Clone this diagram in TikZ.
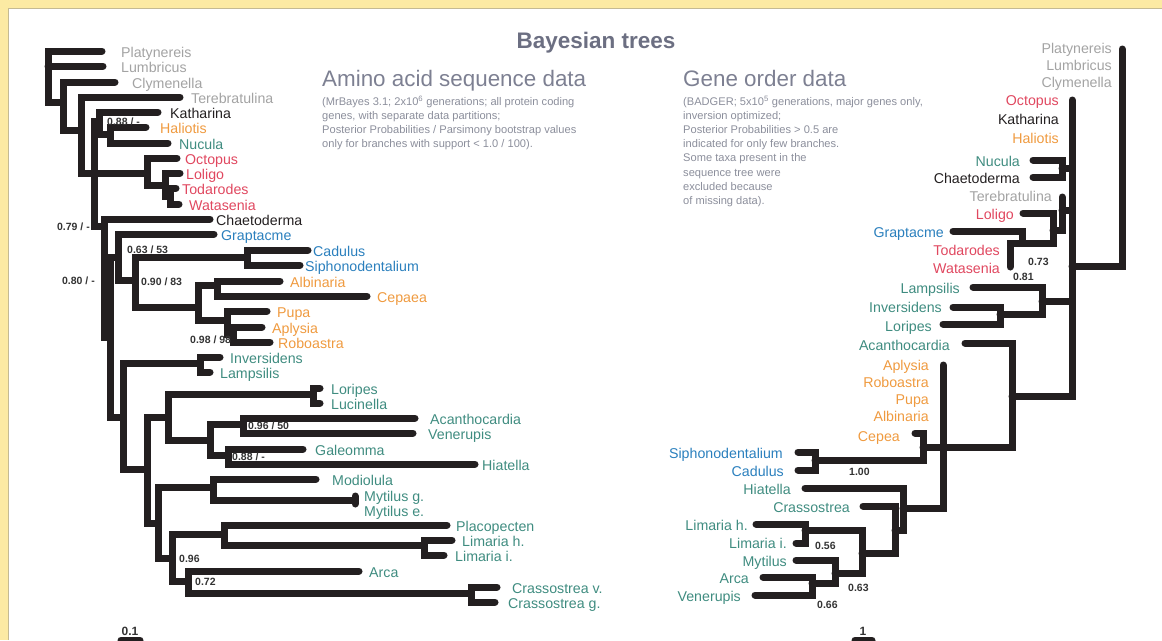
\documentclass[tikz,border=0pt]{standalone}
\usepackage{fontspec}
\setmainfont{Liberation Sans}
\definecolor{branchc}{HTML}{231F20}
\definecolor{outc}{HTML}{A3A3A3}
\definecolor{blackc}{HTML}{231F20}
\definecolor{orangec}{HTML}{EF9A3F}
\definecolor{tealc}{HTML}{3F8C80}
\definecolor{redc}{HTML}{E0475F}
\definecolor{bluec}{HTML}{2A7FBD}
\definecolor{headc}{HTML}{6C6F82}
\definecolor{subc}{HTML}{7D8092}
\definecolor{notec}{HTML}{8B8E9B}
\definecolor{suppc}{HTML}{333333}
\definecolor{framec}{HTML}{FCEAA3}

\begin{document}
\begin{tikzpicture}[x=1pt, y=-1pt,
    branch/.style={line width=7pt, line cap=round, draw=branchc},
    taxon/.style={inner sep=0pt, yshift=-3.5pt, font=\fontsize{14.2}{16}\selectfont},
    lefttax/.style={taxon, anchor=mid west},
    righttax/.style={taxon, anchor=mid east},
    supp/.style={inner sep=0pt, yshift=-2pt, font=\bfseries\fontsize{10.5}{12}\selectfont, text=suppc, anchor=mid west},
    note/.style={inner sep=0pt, font=\fontsize{11.1}{14.1}\selectfont, text=notec, align=left, anchor=north west},
    head/.style={inner sep=0pt, font=\fontsize{22.4}{26}\selectfont, text=subc, anchor=base west}]

    \useasboundingbox (0,0) rectangle (1162,640);

    % Frame
    \fill[framec] (0,0) rectangle (8,640);
    \fill[framec] (0,0) rectangle (1162,8);
    \draw[framec!55!gray, line width=1pt] (8.5,640) -- (8.5,8.5) -- (1162,8.5);

    % Headings
    \node[inner sep=0pt, font=\bfseries\fontsize{22.5}{25}\selectfont, text=headc] (title) at (596,43) {Bayesian trees};
    \node[head] (aahead) at (322,86) {Amino acid sequence data};
    \node[head] (gohead) at (683,86) {Gene order data};
    \node[note] (aanote) at (322,96) {(MrBayes 3.1; 2x10\textsuperscript{6} generations; all protein coding\\
        genes, with separate data partitions;\\
        Posterior Probabilities / Parsimony bootstrap values\\
        only for branches with support < 1.0 / 100).};
    \node[note] (gonote) at (683,96) {(BADGER; 5x10\textsuperscript{5} generations, major genes only,\\
        inversion optimized;\\
        Posterior Probabilities > 0.5 are\\
        indicated for only few branches.\\
        Some taxa present in the\\
        sequence tree were\\
        excluded because\\
        of missing data).};

    % Amino acid tree: tips
    \coordinate (pla) at (102,51);
    \coordinate (lum) at (103,66);
    \coordinate (cly) at (115,82);
    \coordinate (ter) at (180,97);
    \coordinate (kat) at (158,112);
    \coordinate (hal) at (146,127);
    \coordinate (nuc) at (168,143);
    \coordinate (oct) at (177,158);
    \coordinate (lol) at (180,173);
    \coordinate (tod) at (176,188);
    \coordinate (wat) at (179,204);
    \coordinate (cha) at (210,219);
    \coordinate (gra) at (214,234);
    \coordinate (cad) at (308,250);
    \coordinate (sip) at (300,265);
    \coordinate (alb) at (280,281);
    \coordinate (cep) at (367,296);
    \coordinate (pup) at (267,311);
    \coordinate (apl) at (262,327);
    \coordinate (rob) at (270,342);
    \coordinate (inv) at (220,357);
    \coordinate (lam) at (210,372);
    \coordinate (lor) at (320,388);
    \coordinate (luc) at (320,403);
    \coordinate (aca) at (415,418);
    \coordinate (ven) at (413,433);
    \coordinate (gal) at (303,449);
    \coordinate (hia) at (475,464);
    \coordinate (mod) at (316,479);
    \coordinate (myg) at (355,496);
    \coordinate (mye) at (355,504);
    \coordinate (plc) at (447,525);
    \coordinate (lih) at (452,540);
    \coordinate (lii) at (444,555);
    \coordinate (arc) at (359,571);
    \coordinate (crv) at (497,587);
    \coordinate (crg) at (495,602);

    % Amino acid tree: inner nodes
    \coordinate (lRoot) at (48,66);
    \coordinate (lCly) at (63,102);
    \coordinate (lTer) at (81,130);
    \coordinate (lMol) at (94,173);
    \coordinate (lKat) at (99,121);
    \coordinate (lHal) at (110,134);
    \coordinate (lCep) at (147,173);
    \coordinate (lLol) at (165,185);
    \coordinate (lTod) at (170,196);
    \coordinate (lChae) at (104,226);
    \coordinate (lConch) at (110,337);
    \coordinate (lGra) at (118,257);
    \coordinate (lGas) at (135,280);
    \coordinate (lSca) at (247,257);
    \coordinate (lGst) at (198,307);
    \coordinate (lAlb) at (217,285);
    \coordinate (lPup) at (227,320);
    \coordinate (lApl) at (233,334);
    \coordinate (lBiv) at (123,417);
    \coordinate (lUni) at (200,363);
    \coordinate (lHet) at (147,469);
    \coordinate (lVen) at (168,417);
    \coordinate (lLor) at (313,394);
    \coordinate (lCar) at (210,440);
    \coordinate (lAca) at (243,424);
    \coordinate (lGal) at (228,455);
    \coordinate (lPte) at (158,523);
    \coordinate (lMod) at (213,487);
    \coordinate (lMyt) at (355,500);
    \coordinate (lArc) at (172,558);
    \coordinate (lPec) at (224,534);
    \coordinate (lLim) at (424,545);
    \coordinate (lOst) at (188,581);
    \coordinate (lCra) at (471,593);

    % Amino acid tree: branches
    \draw[branch] (pla) -| (lRoot) |- (lCly);
    \draw[branch] (lRoot) -- (lum);
    \draw[branch] (cly) -| (lCly) |- (lTer);
    \draw[branch] (ter) -| (lTer) |- (lMol);
    \draw[branch] (lKat) -| (lMol) |- (lChae);
    \draw[branch] (lMol) -- (lCep);
    \draw[branch] (kat) -| (lKat) |- (lHal);
    \draw[branch] (hal) -| (lHal) |- (nuc);
    \draw[branch] (oct) -| (lCep) |- (lLol);
    \draw[branch] (lol) -| (lLol) |- (lTod);
    \draw[branch] (tod) -| (lTod) |- (wat);
    \draw[branch] (cha) -| (lChae) |- (lConch);
    \draw[branch] (lGra) -| (lConch) |- (lBiv);
    \draw[branch] (gra) -| (lGra) |- (lGas);
    \draw[branch] (lSca) -| (lGas) |- (lGst);
    \draw[branch] (cad) -| (lSca) |- (sip);
    \draw[branch] (lAlb) -| (lGst) |- (lPup);
    \draw[branch] (alb) -| (lAlb) |- (cep);
    \draw[branch] (pup) -| (lPup) |- (lApl);
    \draw[branch] (apl) -| (lApl) |- (rob);
    \draw[branch] (lUni) -| (lBiv) |- (lHet);
    \draw[branch] (inv) -| (lUni) |- (lam);
    \draw[branch] (lVen) -| (lHet) |- (lPte);
    \draw[branch] (lLor) -| (lVen) |- (lCar);
    \draw[branch] (lor) -| (lLor) |- (luc);
    \draw[branch] (lAca) -| (lCar) |- (lGal);
    \draw[branch] (aca) -| (lAca) |- (ven);
    \draw[branch] (gal) -| (lGal) |- (hia);
    \draw[branch] (lMod) -| (lPte) |- (lArc);
    \draw[branch] (mod) -| (lMod) |- (lMyt);
    \draw[branch] (myg) -- (mye);
    \draw[branch] (lPec) -| (lArc) |- (lOst);
    \draw[branch] (plc) -| (lPec) |- (lLim);
    \draw[branch] (lih) -| (lLim) |- (lii);
    \draw[branch] (arc) -| (lOst) |- (lCra);
    \draw[branch] (crv) -| (lCra) |- (crg);

    % Amino acid tree: labels
    \node[lefttax, text=outc] (plaT) at (121,51) {Platynereis};
    \node[lefttax, text=outc] (lumT) at (121,66) {Lumbricus};
    \node[lefttax, text=outc] (clyT) at (132,82) {Clymenella};
    \node[lefttax, text=outc] (terT) at (191,97) {Terebratulina};
    \node[lefttax, text=blackc] (katT) at (170,112) {Katharina};
    \node[lefttax, text=orangec] (halT) at (160,127) {Haliotis};
    \node[lefttax, text=tealc] (nucT) at (179,143) {Nucula};
    \node[lefttax, text=redc] (octT) at (185,158) {Octopus};
    \node[lefttax, text=redc] (lolT) at (186,173) {Loligo};
    \node[lefttax, text=redc] (todT) at (182,188) {Todarodes};
    \node[lefttax, text=redc] (watT) at (189,204) {Watasenia};
    \node[lefttax, text=blackc] (chaT) at (216,219) {Chaetoderma};
    \node[lefttax, text=bluec] (graT) at (221,234) {Graptacme};
    \node[lefttax, text=bluec] (cadT) at (313,250) {Cadulus};
    \node[lefttax, text=bluec] (sipT) at (305,265) {Siphonodentalium};
    \node[lefttax, text=orangec] (albT) at (290,281) {Albinaria};
    \node[lefttax, text=orangec] (cepT) at (377,296) {Cepaea};
    \node[lefttax, text=orangec] (pupT) at (277,311) {Pupa};
    \node[lefttax, text=orangec] (aplT) at (272,327) {Aplysia};
    \node[lefttax, text=orangec] (robT) at (278,342) {Roboastra};
    \node[lefttax, text=tealc] (invT) at (230,357) {Inversidens};
    \node[lefttax, text=tealc] (lamT) at (220,372) {Lampsilis};
    \node[lefttax, text=tealc] (lorT) at (331,388) {Loripes};
    \node[lefttax, text=tealc] (lucT) at (331,403) {Lucinella};
    \node[lefttax, text=tealc] (acaT) at (430,418) {Acanthocardia};
    \node[lefttax, text=tealc] (venT) at (428,433) {Venerupis};
    \node[lefttax, text=tealc] (galT) at (315,449) {Galeomma};
    \node[lefttax, text=tealc] (hiaT) at (482,464) {Hiatella};
    \node[lefttax, text=tealc] (modT) at (332,479) {Modiolula};
    \node[lefttax, text=tealc] (mygT) at (364,495) {Mytilus g.};
    \node[lefttax, text=tealc] (myeT) at (364,510) {Mytilus e.};
    \node[lefttax, text=tealc] (plcT) at (456,525) {Placopecten};
    \node[lefttax, text=tealc] (lihT) at (462,540) {Limaria h.};
    \node[lefttax, text=tealc] (liiT) at (455,555) {Limaria i.};
    \node[lefttax, text=tealc] (arcT) at (369,571) {Arca};
    \node[lefttax, text=tealc] (crvT) at (512,587) {Crassostrea v.};
    \node[lefttax, text=tealc] (crgT) at (508,602) {Crassostrea g.};

    % Amino acid tree: support values
    \node[supp] (sKat) at (107,121) {0.88 / -};
    \node[supp, anchor=mid east] (sMol) at (90,226) {0.79 / -};
    \node[supp, anchor=mid east] (sChae) at (95,280) {0.80 / -};
    \node[supp] (sGra) at (127,249) {0.63 / 53};
    \node[supp] (sGas) at (141,281) {0.90 / 83};
    \node[supp] (sPup) at (190,339) {0.98 / 98};
    \node[supp] (sAca) at (248,425) {0.96 / 50};
    \node[supp] (sGal) at (232,456) {0.88 / -};
    \node[supp] (sArc) at (179,558) {0.96};
    \node[supp] (sOst) at (195,581) {0.72};

    % Gene order tree: tips
    \coordinate (nucR) at (1033,160);
    \coordinate (chaR) at (1033,177);
    \coordinate (lolR) at (1023,213);
    \coordinate (graR) at (953,231);
    \coordinate (todR) at (1010,251);
    \coordinate (watR) at (1010,267);
    \coordinate (lamR) at (973,287);
    \coordinate (invR) at (953,307);
    \coordinate (lorR) at (943,324);
    \coordinate (acaR) at (965,343);
    \coordinate (cepR) at (915,433);
    \coordinate (sipR) at (798,452);
    \coordinate (cadR) at (798,470);
    \coordinate (hiaR) at (805,488);
    \coordinate (craR) at (863,506);
    \coordinate (lihR) at (756,524);
    \coordinate (liiR) at (796,543);
    \coordinate (mytR) at (796,560);
    \coordinate (arcR) at (763,577);
    \coordinate (venR) at (755,595);

    % Gene order tree: inner nodes
    \coordinate (rTop) at (1122,49);
    \coordinate (rMolTop) at (1072,100);
    \coordinate (rMol) at (1072,266);
    \coordinate (rNuc) at (1062,168);
    \coordinate (rTerTop) at (1062,197);
    \coordinate (rTer) at (1062,210);
    \coordinate (rLol) at (1053,230);
    \coordinate (rGra) at (1022,243);
    \coordinate (rLam) at (1042,301);
    \coordinate (rInv) at (1000,314);
    \coordinate (rAca) at (1012,396);
    \coordinate (rGasTop) at (943,365);
    \coordinate (rGas) at (943,447);
    \coordinate (rCep) at (923,447);
    \coordinate (rSca) at (815,460);
    \coordinate (rBiv) at (903,508);
    \coordinate (rCra) at (895,530);
    \coordinate (rPte) at (862,553);
    \coordinate (rLim) at (805,530);
    \coordinate (rMyt) at (835,573);
    \coordinate (rArc) at (812,583);

    % Gene order tree: branches
    \draw[branch] (rTop) |- (rMol);
    \draw[branch] (rMolTop) |- (rAca);
    \draw[branch] (rNuc) -- (rNuc -| rMol);
    \draw[branch] (rTer) -- (rTer -| rMol);
    \draw[branch] (rLam) -- (rLam -| rMol);
    \draw[branch] (nucR) -| (rNuc) |- (chaR);
    \draw[branch] (rTerTop) |- (rLol);
    \draw[branch] (lolR) -| (rLol) |- (rGra);
    \draw[branch] (graR) -| (rGra) |- (todR |- rGra) -- (todR);
    \draw[branch] (todR) -- (watR);
    \draw[branch] (lamR) -| (rLam) |- (rInv);
    \draw[branch] (invR) -| (rInv) |- (lorR);
    \draw[branch] (acaR) -| (rAca) |- (rGas);
    \draw[branch] (rGasTop) |- (rBiv);
    \draw[branch] (rCep) -- (rGas);
    \draw[branch] (cepR) -| (rCep) |- (rSca);
    \draw[branch] (sipR) -| (rSca) |- (cadR);
    \draw[branch] (hiaR) -| (rBiv) |- (rCra);
    \draw[branch] (craR) -| (rCra) |- (rPte);
    \draw[branch] (rLim) -| (rPte) |- (rMyt);
    \draw[branch] (lihR) -| (rLim) |- (liiR);
    \draw[branch] (mytR) -| (rMyt) |- (rArc);
    \draw[branch] (arcR) -| (rArc) |- (venR);

    % Gene order tree: labels
    \node[righttax, text=outc] (plaU) at (1112,47) {Platynereis};
    \node[righttax, text=outc] (lumU) at (1112,64) {Lumbricus};
    \node[righttax, text=outc] (clyU) at (1112,81) {Clymenella};
    \node[righttax, text=redc] (octU) at (1059,99) {Octopus};
    \node[righttax, text=blackc] (katU) at (1059,118) {Katharina};
    \node[righttax, text=orangec] (halU) at (1059,137) {Haliotis};
    \node[righttax, text=tealc] (nucU) at (1020,160) {Nucula};
    \node[righttax, text=blackc] (chaU) at (1020,177) {Chaetoderma};
    \node[righttax, text=outc] (terU) at (1052,195) {Terebratulina};
    \node[righttax, text=redc] (lolU) at (1014,213) {Loligo};
    \node[righttax, text=bluec] (graU) at (944,231) {Graptacme};
    \node[righttax, text=redc] (todU) at (1000,249) {Todarodes};
    \node[righttax, text=redc] (watU) at (1000,267) {Watasenia};
    \node[righttax, text=tealc] (lamU) at (960,287) {Lampsilis};
    \node[righttax, text=tealc] (invU) at (942,306) {Inversidens};
    \node[righttax, text=tealc] (lorU) at (932,325) {Loripes};
    \node[righttax, text=tealc] (acaU) at (950,344) {Acanthocardia};
    \node[righttax, text=orangec] (aplU) at (929,364) {Aplysia};
    \node[righttax, text=orangec] (robU) at (929,381) {Roboastra};
    \node[righttax, text=orangec] (pupU) at (929,398) {Pupa};
    \node[righttax, text=orangec] (albU) at (929,415) {Albinaria};
    \node[righttax, text=orangec] (cepU) at (900,435) {Cepea};
    \node[righttax, text=bluec] (sipU) at (783,452) {Siphonodentalium};
    \node[righttax, text=bluec] (cadU) at (784,470) {Cadulus};
    \node[righttax, text=tealc] (hiaU) at (791,488) {Hiatella};
    \node[righttax, text=tealc] (craU) at (850,506) {Crassostrea};
    \node[righttax, text=tealc] (lihU) at (748,524) {Limaria h.};
    \node[righttax, text=tealc] (liiU) at (787,542) {Limaria i.};
    \node[righttax, text=tealc] (mytU) at (787,560) {Mytilus};
    \node[righttax, text=tealc] (arcU) at (749,577) {Arca};
    \node[righttax, text=tealc] (venU) at (741,595) {Venerupis};

    % Gene order tree: support values
    \node[supp] (sGraR) at (1028,261) {0.73};
    \node[supp] (sTodR) at (1013,276) {0.81};
    \node[supp] (sScaR) at (849,471) {1.00};
    \node[supp] (sLimR) at (815,545) {0.56};
    \node[supp] (sPteR) at (848,587) {0.63};
    \node[supp] (sArcR) at (817,604) {0.66};

    % Scale bars
    \coordinate (sbA1) at (121,640);
    \coordinate (sbA2) at (140,640);
    \coordinate (sbB1) at (855,640);
    \coordinate (sbB2) at (872,640);
    \draw[branch] (sbA1) -- (sbA2);
    \draw[branch] (sbB1) -- (sbB2);
    \node[supp, anchor=base, yshift=0pt, font=\bfseries\fontsize{12}{14}\selectfont] (sbAT) at (130,633) {0.1};
    \node[supp, anchor=base, yshift=0pt, font=\bfseries\fontsize{12}{14}\selectfont] (sbBT) at (863,633) {1};

\end{tikzpicture}
\end{document}
